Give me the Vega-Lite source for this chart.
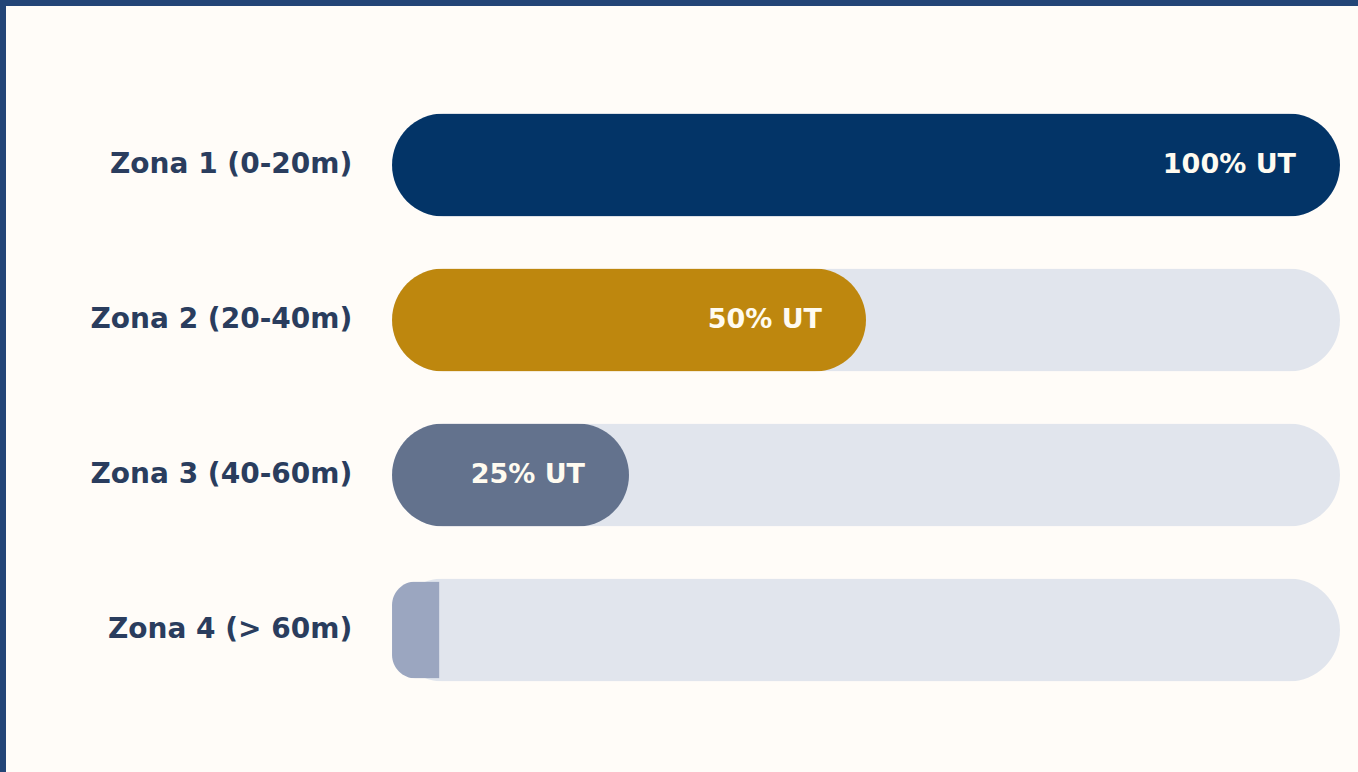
{
  "$schema": "https://vega.github.io/schema/vega-lite/v6.json",
  "width": 1352,
  "height": 766,
  "padding": {"left": 6, "top": 6, "right": 0, "bottom": 0},
  "autosize": {"type": "none"},
  "background": "#234577",
  "view": {"fill": "#FFFCF8", "stroke": null},
  "config": {"font": "DejaVu Sans"},
  "data": {
    "values": [
      {"zona": "Zona 1 (0-20m)", "pct": 100, "label": "100% UT", "track": 100},
      {"zona": "Zona 2 (20-40m)", "pct": 50, "label": "50% UT", "track": 100},
      {"zona": "Zona 3 (40-60m)", "pct": 25, "label": "25% UT", "track": 100},
      {"zona": "Zona 4 (> 60m)", "pct": 5, "label": "", "track": 100}
    ]
  },
  "encoding": {
    "y": {
      "field": "zona",
      "type": "nominal",
      "sort": null,
      "scale": {"type": "point", "range": [159, 624], "padding": 0},
      "axis": null
    }
  },
  "layer": [
    {
      "mark": {"type": "bar", "size": 103, "cornerRadius": 51.5, "color": "#E1E5ED"},
      "encoding": {
        "x": {"field": "track", "type": "quantitative", "scale": {"domain": [-40.72, 101.9], "nice": false, "zero": false}, "axis": null}
      }
    },
    {
      "transform": [{"filter": "datum.pct > 10"}],
      "mark": {"type": "bar", "size": 103, "cornerRadius": 51.5},
      "encoding": {
        "x": {"field": "pct", "type": "quantitative"},
        "color": {
          "field": "zona",
          "type": "nominal",
          "scale": {
            "domain": ["Zona 1 (0-20m)", "Zona 2 (20-40m)", "Zona 3 (40-60m)", "Zona 4 (> 60m)"],
            "range": ["#033467", "#BE870E", "#63728D", "#9BA6C0"]
          },
          "legend": null
        }
      }
    },
    {
      "transform": [{"filter": "datum.pct <= 10"}],
      "mark": {"type": "bar", "size": 97, "cornerRadiusTopLeft": 48, "cornerRadiusBottomLeft": 48, "color": "#9BA6C0"},
      "encoding": {
        "x": {"field": "pct", "type": "quantitative"}
      }
    },
    {
      "mark": {"type": "text", "align": "right", "baseline": "middle", "dx": -44, "fontSize": 27, "fontWeight": "bold", "color": "#FFFBF0"},
      "encoding": {
        "x": {"field": "pct", "type": "quantitative"},
        "text": {"field": "label"}
      }
    },
    {
      "mark": {"type": "text", "align": "right", "baseline": "middle", "fontSize": 28, "fontWeight": "bold", "color": "#2A3D5E"},
      "encoding": {
        "x": {"datum": -4.2, "type": "quantitative"},
        "text": {"field": "zona"}
      }
    }
  ]
}
